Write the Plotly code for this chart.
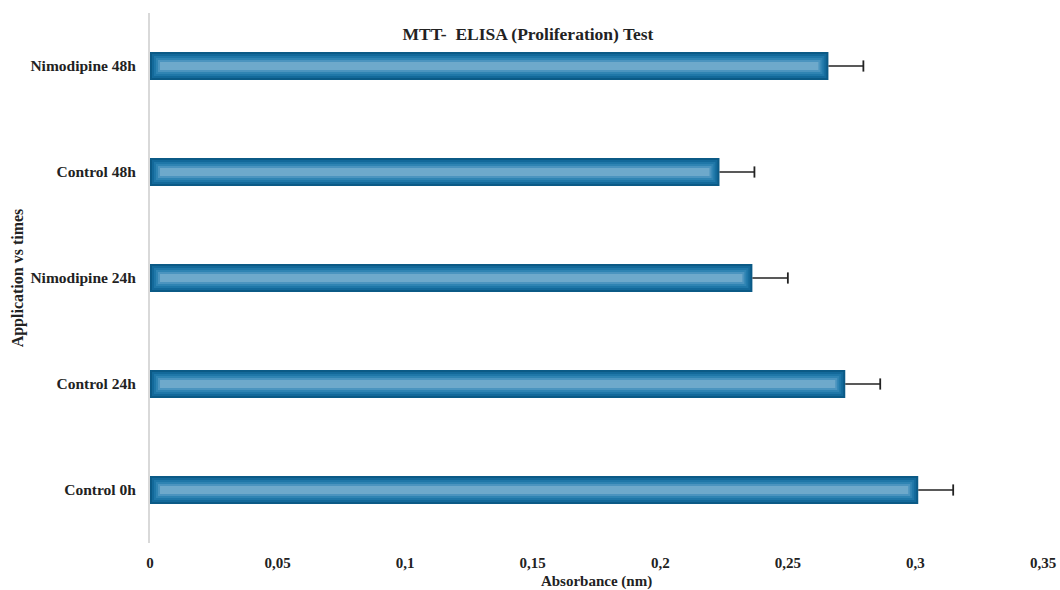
import plotly.graph_objects as go

categories = ["Control 0h", "Control 24h", "Nimodipine 24h", "Control 48h", "Nimodipine 48h"]
absorbance = [0.3011, 0.2725, 0.2361, 0.2232, 0.2659]
errors = [0.0137, 0.0137, 0.0139, 0.0137, 0.0137]

# gradient layers (outer -> inner)
layer_colors = ["#0b5a86", "#13699a", "#1f77a8", "#2f84b3", "#4b94bf", "#6ea9cb"]
bar_width = 0.265
px_per_cat = 106.0
px_per_unit = 2554.0
step_px = 2.0

fig = go.Figure()
for i, col in enumerate(layer_colors):
    inset_px = step_px * i
    w = bar_width - 2 * inset_px / px_per_cat
    dx = inset_px / px_per_unit
    fig.add_trace(go.Bar(
        y=categories,
        x=[v - 2 * dx for v in absorbance],
        base=[dx] * len(absorbance),
        orientation="h",
        width=w,
        marker=dict(color=col, line=dict(width=0)),
        showlegend=False,
        hoverinfo="skip" if i else None,
    ))

# one-sided error bars: line from bar end, cap at the far end only
fig.add_trace(go.Scatter(
    y=categories,
    x=[v + e for v, e in zip(absorbance, errors)],
    mode="markers",
    marker=dict(symbol="line-ns-open", size=8, color="#222222",
                line=dict(color="#222222", width=1.8)),
    error_x=dict(type="data", array=[0] * len(errors), arrayminus=errors,
                 symmetric=False, color="#222222", thickness=1.5, width=0),
    showlegend=False,
    hoverinfo="skip",
))

font_family = "Liberation Serif, Times New Roman, serif"
fig.update_layout(
    width=1060, height=590,
    barmode="overlay",
    separators=",.",
    paper_bgcolor="white", plot_bgcolor="white",
    margin=dict(l=150, r=17, t=13, b=47),
    font=dict(family=font_family, size=15, color="#222222"),
    title=dict(text="<b>MTT-\u00a0\u00a0ELISA (Proliferation) Test</b>", x=0.4233, xref="paper",
               xanchor="center", y=1 - 34 / 590, yanchor="middle", yref="container",
               font=dict(size=17.5, family=font_family, color="#222222")),
    xaxis=dict(range=[0, 0.35], dtick=0.05, tick0=0, showgrid=False, zeroline=False,
               showline=False, ticks="", automargin=False,
               tickfont=dict(size=15, family=font_family, color="#222222"),
               ticklabelstandoff=9,
               title=dict(text="<b>Absorbance (nm)</b>", standoff=5,
                          font=dict(size=15, family=font_family, color="#222222"))),
    yaxis=dict(range=[-0.5, 4.5], showgrid=False, zeroline=False, showline=True,
               linecolor="#d9d9d9", linewidth=2, ticks="", ticklabelstandoff=9,
               automargin=False,
               tickfont=dict(size=15.5, family=font_family, color="#222222"),
               title=dict(text="<b>Application vs times</b>", standoff=3,
                          font=dict(size=16, family=font_family, color="#222222"))),
)
fig.update_xaxes(tickprefix="<b>", ticksuffix="</b>")
fig.update_yaxes(tickprefix="<b>", ticksuffix="</b>")

fig.write_html("out.html", config={"displayModeBar": False},
               post_script="document.body.style.margin='0';")
